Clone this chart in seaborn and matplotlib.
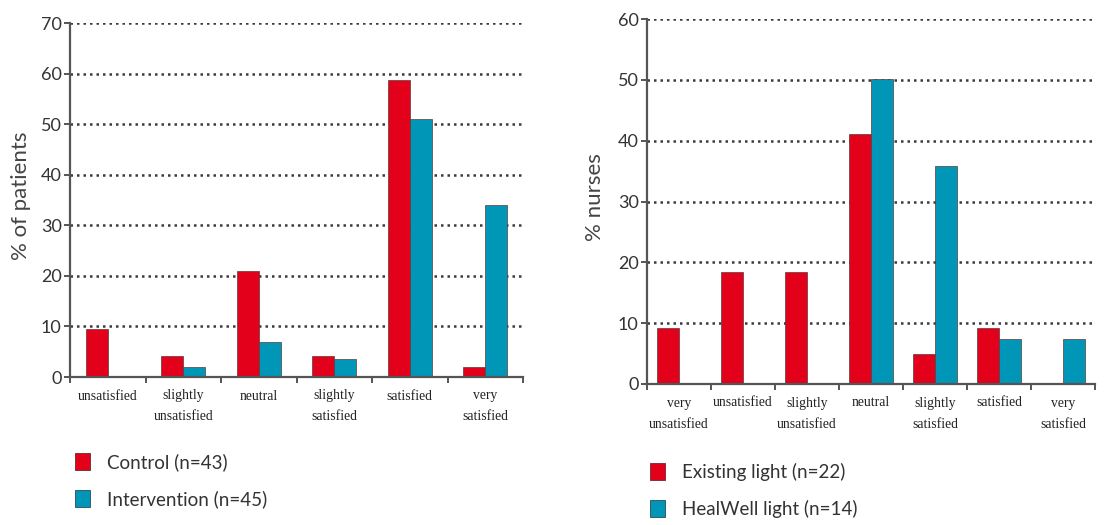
import numpy as np
import pandas as pd
import matplotlib
matplotlib.use("Agg")
import matplotlib.pyplot as plt
from matplotlib.patches import Patch
import seaborn as sns

# left panel: patients
pat_cats = ["unsatisfied", "slightly\nunsatisfied", "neutral",
            "slightly\nsatisfied", "satisfied", "very\nsatisfied"]
pat_groups = ["Control (n=43)", "Intervention (n=45)"]
pat_control = [9.5, 4.1, 20.9, 4.1, 58.7, 1.9]
pat_interv = [0.0, 2.0, 7.0, 3.5, 51.0, 34.0]

# right panel: nurses
nur_cats = ["very\nunsatisfied", "unsatisfied", "slightly\nunsatisfied", "neutral",
            "slightly\nsatisfied", "satisfied", "very\nsatisfied"]
nur_groups = ["Existing light (n=22)", "HealWell light (n=14)"]
nur_existing = [9.2, 18.4, 18.4, 41.1, 4.9, 9.2, 0.0]
nur_healwell = [0.0, 0.0, 0.0, 50.2, 35.8, 7.4, 7.4]

RED = "#e2001a"
BLUE = "#0096b8"
GREY = "#555555"
TXT = "#333333"

sns.set_style("ticks")
plt.rcParams["font.family"] = ["Lato", "DejaVu Sans"]

W, H = 1107, 525
fig = plt.figure(figsize=(W / 100, H / 100), dpi=100)


def px_axes(x0, x1, ytop, ybot):
    return fig.add_axes([x0 / W, 1 - ybot / H, (x1 - x0) / W, (ybot - ytop) / H])


def make_df(cats, groups, a, b):
    return pd.DataFrame({
        "cat": cats + cats,
        "grp": [groups[0]] * len(cats) + [groups[1]] * len(cats),
        "val": a + b,
    })


def draw(ax, df, cats, groups, ymax, width):
    sns.barplot(data=df, x="cat", y="val", hue="grp", order=cats, hue_order=groups,
                palette=[RED, BLUE], saturation=1, width=width, ax=ax,
                edgecolor="#5a3a3a", linewidth=0.5, legend=False, errorbar=None)
    n = len(cats)
    ax.set_xlim(-0.5, n - 0.5)
    ax.set_ylim(0, ymax)
    ax.set_yticks(np.arange(0, ymax + 1, 10))
    ax.set_axisbelow(True)
    ax.yaxis.grid(True, linestyle=(0, (1, 1.6)), linewidth=1.8, color="#3a3a3a")
    ax.set_xticks(np.arange(-0.5, n), minor=True)
    ax.tick_params(axis="x", which="major", length=0, pad=9)
    ax.tick_params(axis="x", which="minor", length=4, width=1.4, color=GREY, direction="out")
    ax.tick_params(axis="y", length=4, width=1.4, color=GREY, pad=2, labelsize=13,
                   labelcolor=TXT)
    for lab in ax.get_xticklabels():
        lab.set_family(["Liberation Serif"])
        lab.set_fontsize(9.8)
        lab.set_linespacing(1.8)
        lab.set_color("#222222")
    ax.set_xlabel("")
    ax.set_ylabel("")
    sns.despine(ax=ax)
    for s in ["left", "bottom"]:
        ax.spines[s].set_color(GREY)
        ax.spines[s].set_linewidth(1.6)


ax1 = px_axes(70, 523, 23, 377)
draw(ax1, make_df(pat_cats, pat_groups, pat_control, pat_interv), pat_cats, pat_groups, 70, 0.58)

ax2 = px_axes(647, 1095, 19, 384)
draw(ax2, make_df(nur_cats, nur_groups, nur_existing, nur_healwell), nur_cats, nur_groups, 60, 0.69)

fig.text(21 / W, 1 - 196 / H, "% of patients", rotation=90, ha="center", va="center",
         fontsize=16, color="#444444")
fig.text(595 / W, 1 - 197 / H, "% nurses", rotation=90, ha="center", va="center",
         fontsize=16, color="#444444")


def legend(groups, x, y):
    handles = [Patch(facecolor=RED, edgecolor="#6a2a2a", linewidth=0.6),
               Patch(facecolor=BLUE, edgecolor="#2a4a5a", linewidth=0.6)]
    fig.legend(handles, groups, loc="upper left", bbox_to_anchor=(x / W, 1 - y / H),
               frameon=False, fontsize=13.5, handlelength=0.8, handleheight=1.05,
               handletextpad=0.9, labelspacing=1.0, borderpad=0, borderaxespad=0,
               labelcolor=TXT)


legend(pat_groups, 75, 453)
legend(nur_groups, 650, 463)

fig.savefig("out.png", dpi=100)
